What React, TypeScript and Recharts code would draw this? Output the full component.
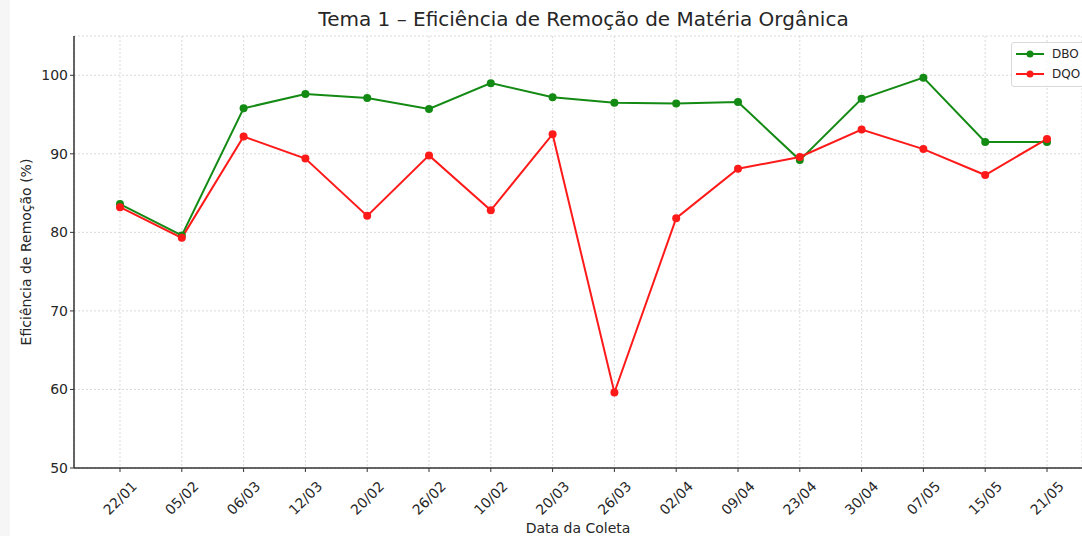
import React from "react";
import {
  LineChart,
  Line,
  XAxis,
  YAxis,
  CartesianGrid,
} from "recharts";

const datas = [
  "22/01", "05/02", "06/03", "12/03", "20/02", "26/02", "10/02", "20/03",
  "26/03", "02/04", "09/04", "23/04", "30/04", "07/05", "15/05", "21/05",
];
const dbo = [
  83.6, 79.6, 95.8, 97.6, 97.1, 95.7, 99.0, 97.2,
  96.5, 96.4, 96.6, 89.2, 97.0, 99.7, 91.5, 91.5,
];
const dqo = [
  83.2, 79.3, 92.2, 89.4, 82.1, 89.8, 82.8, 92.5,
  59.6, 81.8, 88.1, 89.6, 93.1, 90.6, 87.3, 91.9,
];
const yTicks = [50, 60, 70, 80, 90, 100];

const data = datas.map((d, i) => ({ data: d, DBO: dbo[i], DQO: dqo[i] }));

const FONT = "'DejaVu Sans', sans-serif";
const TEXT = "#262626";
const GREEN = "#138a13";
const RED = "#ff1a1a";

// rotated date labels, matplotlib style (rotation 45, centred on the tick)
function DateTick(props: any) {
  const { x, y, payload } = props;
  return (
    <text
      x={x}
      y={y + 24}
      transform={`rotate(-45, ${x}, ${y + 24})`}
      textAnchor="middle"
      dominantBaseline="central"
      fontSize={14}
      fontFamily={FONT}
      fill={TEXT}
    >
      {payload.value}
    </text>
  );
}

function LegendBox() {
  const items = [
    { name: "DBO", color: GREEN },
    { name: "DQO", color: RED },
  ];
  return (
    <div
      style={{
        position: "absolute",
        left: 1011,
        top: 42,
        border: "1px solid #d9d9d9",
        borderRadius: 3,
        background: "rgba(255,255,255,0.8)",
        padding: "1px 30px 2px 3px",
        fontFamily: FONT,
        fontSize: 12,
        color: TEXT,
      }}
    >
      {items.map((it) => (
        <div
          key={it.name}
          style={{ display: "flex", alignItems: "center", height: 20, whiteSpace: "nowrap" }}
        >
          <svg width={30} height={12} style={{ marginRight: 7, flexShrink: 0 }}>
            <line x1={1} y1={6} x2={29} y2={6} stroke={it.color} strokeWidth={2} />
            <circle cx={15} cy={6} r={3.5} fill={it.color} />
          </svg>
          {it.name}
        </div>
      ))}
    </div>
  );
}

export default function App() {
  return (
    <div
      style={{
        position: "absolute",
        left: 0,
        top: 0,
        width: 1082,
        height: 536,
        background: "#fff",
        overflow: "hidden",
      }}
    >
      <div
        style={{
          position: "absolute",
          left: 0,
          top: 0,
          width: 10,
          height: 536,
          background: "#f6f6f6",
        }}
      />
      <div
        style={{
          position: "absolute",
          left: 74,
          width: 1019,
          top: 7,
          textAlign: "center",
          fontFamily: FONT,
          fontSize: 20,
          color: TEXT,
        }}
      >
        Tema 1 – Eficiência de Remoção de Matéria Orgânica
      </div>
      <LineChart
        width={1082}
        height={536}
        data={data}
        margin={{ top: 36, right: 0, bottom: 0, left: 0 }}
        style={{ position: "absolute", left: 0, top: 0 }}
      >
        <CartesianGrid stroke="#d0d0d0" strokeDasharray="2 2" strokeWidth={0.8} />
        <XAxis
          dataKey="data"
          scale="point"
          padding={{ left: 46, right: 35 }}
          interval={0}
          height={68}
          tick={<DateTick />}
          tickLine={{ stroke: "#333", strokeWidth: 1 }}
          tickSize={4}
          axisLine={{ stroke: "#333", strokeWidth: 1.5 }}
          label={{
            value: "Data da Coleta",
            position: "insideBottom",
            offset: 3,
            fontSize: 14,
            fontFamily: FONT,
            fill: TEXT,
          }}
        />
        <YAxis
          width={74}
          domain={[50, 105]}
          ticks={yTicks}
          interval={0}
          tickSize={4}
          tick={{ fontSize: 14, fontFamily: FONT, fill: TEXT }}
          tickLine={{ stroke: "#333", strokeWidth: 1 }}
          axisLine={{ stroke: "#333", strokeWidth: 1.5 }}
          label={{
            value: "Eficiência de Remoção (%)",
            angle: -90,
            position: "insideLeft",
            offset: 26,
            style: { textAnchor: "middle" },
            fontSize: 14,
            fontFamily: FONT,
            fill: TEXT,
          }}
        />
        <Line
          dataKey="DBO"
          name="DBO"
          stroke={GREEN}
          strokeWidth={2}
          dot={{ r: 4, fill: GREEN, stroke: GREEN, strokeWidth: 0 }}
          activeDot={false}
          isAnimationActive={false}
        />
        <Line
          dataKey="DQO"
          name="DQO"
          stroke={RED}
          strokeWidth={2}
          dot={{ r: 4, fill: RED, stroke: RED, strokeWidth: 0 }}
          activeDot={false}
          isAnimationActive={false}
        />
      </LineChart>
      <LegendBox />
    </div>
  );
}
